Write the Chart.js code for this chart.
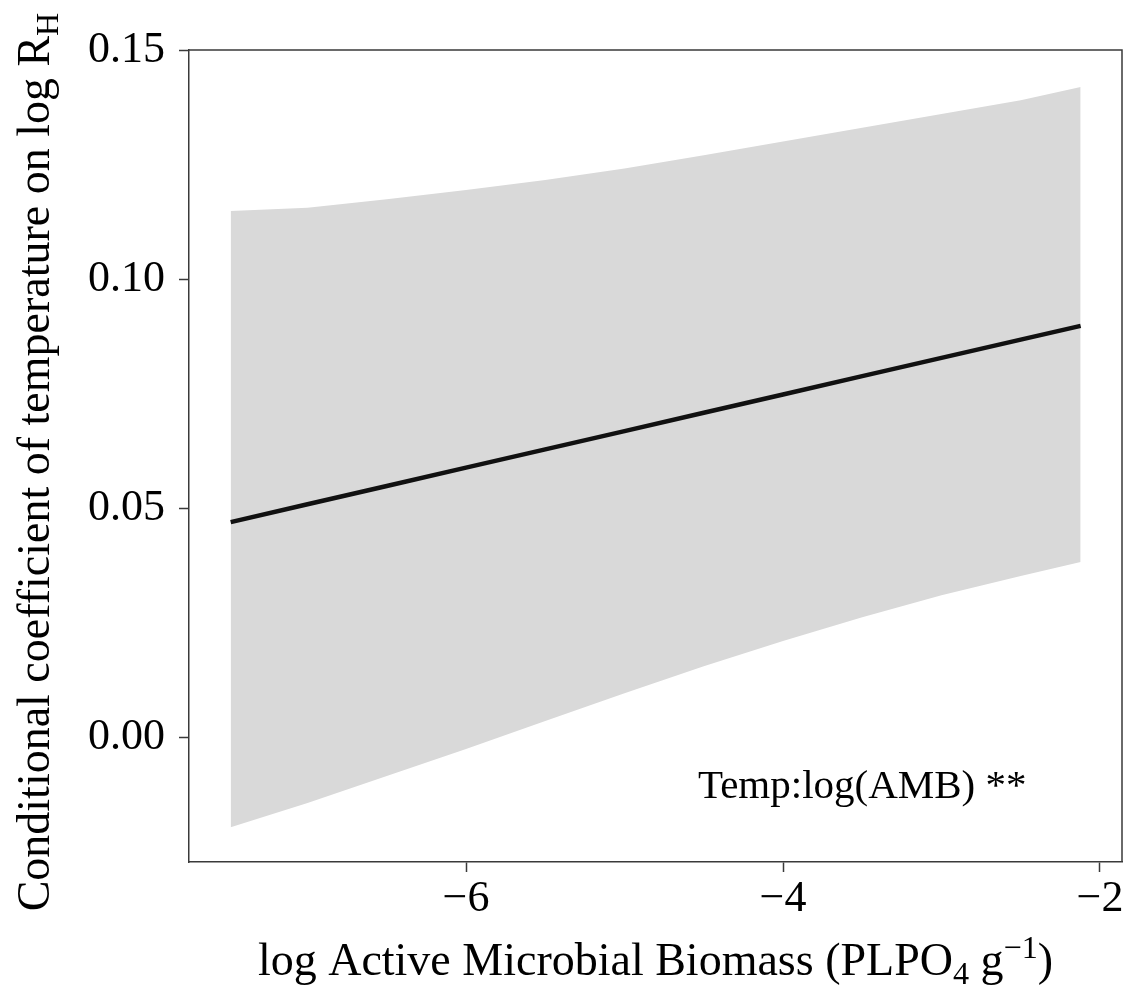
<!DOCTYPE html>
<html>
<head>
<meta charset="utf-8">
<script src="https://cdn.jsdelivr.net/npm/chart.js@4.4.1/dist/chart.umd.min.js"></script>
<style>
  html, body { margin: 0; padding: 0; background: #ffffff; }
  #wrap { width: 1125px; height: 987px; }
</style>
</head>
<body>
<div id="wrap"><canvas id="c" width="1125" height="987"></canvas></div>
<script>
// ---- data ----
const xValues = [-7.485, -7.0, -6.5, -6.0, -5.5, -5.0, -4.5, -4.0, -3.5, -3.0, -2.5, -2.122];
const fitValues = [0.0470, 0.0509, 0.0549, 0.0589, 0.0629, 0.0669, 0.0709, 0.0749, 0.0789, 0.0829, 0.0869, 0.0899];
const upperValues = [0.1150, 0.1157, 0.1176, 0.1196, 0.1218, 0.1243, 0.1272, 0.1302, 0.1332, 0.1362, 0.1392, 0.1421];
const lowerValues = [-0.0197, -0.0144, -0.0085, -0.0026, 0.0035, 0.0096, 0.0155, 0.0210, 0.0262, 0.0310, 0.0352, 0.0383];

const xTicks = [-6, -4, -2];
const xTickLabels = ['\u22126', '\u22124', '\u22122'];
const yTicks = [0.00, 0.05, 0.10, 0.15];
const yTickLabels = ['0.00', '0.05', '0.10', '0.15'];
const xRange = [-7.748, -1.861];
const yRange = [-0.0273, 0.1502];

const xTitleParts = [
  { t: 'log Active Microbial Biomass (PLPO' },
  { t: '4', sub: true },
  { t: ' g' },
  { t: '\u22121', sup: true },
  { t: ')' }
];
const yTitleParts = [
  { t: 'Conditional coefficient of temperature on log R' },
  { t: 'H', sub: true }
];
const annotationText = 'Temp:log(AMB) **';
const annotationAt = { x: -3.5, y: -0.0133 };

// ---- styles ----
const FONT = "'Liberation Serif', 'Times New Roman', serif";
const FS = 44;
const TFS = 46;
const FRAME = '#3a3a3a';
const BAND = '#d9d9d9';

const toPts = (ys) => xValues.map((x, i) => ({ x: x, y: ys[i] }));

function richWidth(ctx, parts, size) {
  let w = 0;
  for (const p of parts) {
    const s = (p.sub || p.sup) ? size * 0.7 : size;
    ctx.font = s + 'px ' + FONT;
    w += ctx.measureText(p.t).width;
  }
  return w;
}
function drawRich(ctx, parts, cx, baseY, size) {
  const total = richWidth(ctx, parts, size);
  let x = cx - total / 2;
  ctx.textAlign = 'left';
  ctx.textBaseline = 'alphabetic';
  for (const p of parts) {
    const s = (p.sub || p.sup) ? size * 0.7 : size;
    ctx.font = s + 'px ' + FONT;
    let y = baseY;
    if (p.sub) y += size * 0.2;
    if (p.sup) y -= size * 0.38;
    ctx.fillText(p.t, x, y);
    x += ctx.measureText(p.t).width;
  }
}

const decorPlugin = {
  id: 'decor',
  afterDraw(chart) {
    const { ctx, chartArea: ca, scales } = chart;
    ctx.save();
    // top and right frame lines
    ctx.strokeStyle = FRAME;
    ctx.lineWidth = 1.5;
    ctx.beginPath();
    ctx.moveTo(ca.left, ca.top);
    ctx.lineTo(ca.right, ca.top);
    ctx.lineTo(ca.right, ca.bottom);
    ctx.stroke();

    ctx.fillStyle = '#000000';
    // x title
    drawRich(ctx, xTitleParts, (ca.left + ca.right) / 2, 975, TFS);
    // y title
    ctx.save();
    ctx.translate(49, (ca.top + ca.bottom) / 2 + 6);
    ctx.rotate(-Math.PI / 2);
    drawRich(ctx, yTitleParts, 0, 0, TFS);
    ctx.restore();
    // annotation
    ctx.font = '41px ' + FONT;
    ctx.textAlign = 'center';
    ctx.textBaseline = 'alphabetic';
    ctx.fillText(annotationText, scales.x.getPixelForValue(annotationAt.x), scales.y.getPixelForValue(annotationAt.y));
    ctx.restore();
  }
};

new Chart(document.getElementById('c'), {
  type: 'line',
  data: {
    datasets: [
      {
        label: 'fit',
        data: toPts(fitValues),
        borderColor: '#111111',
        borderWidth: 4.5,
        pointRadius: 0,
        tension: 0,
        fill: false,
        order: 0
      },
      {
        label: 'upper',
        data: toPts(upperValues),
        borderWidth: 0,
        borderColor: 'rgba(0,0,0,0)',
        backgroundColor: BAND,
        pointRadius: 0,
        tension: 0,
        fill: '+1',
        order: 1
      },
      {
        label: 'lower',
        data: toPts(lowerValues),
        borderWidth: 0,
        borderColor: 'rgba(0,0,0,0)',
        pointRadius: 0,
        tension: 0,
        fill: false,
        order: 2
      }
    ]
  },
  options: {
    responsive: false,
    devicePixelRatio: 1,
    animation: false,
    layout: { padding: { top: 50, right: 3, left: 0, bottom: 0 } },
    plugins: { legend: { display: false }, tooltip: { enabled: false } },
    scales: {
      x: {
        type: 'linear',
        min: xRange[0],
        max: xRange[1],
        afterBuildTicks: (s) => { s.ticks = xTicks.map(v => ({ value: v })); },
        afterFit: (s) => { s.height = 125; s.paddingLeft = 0; s.paddingRight = 0; },
        ticks: {
          autoSkip: false,
          maxRotation: 0,
          padding: 1,
          color: '#000000',
          font: { family: FONT, size: FS },
          callback: (v) => xTickLabels[xTicks.indexOf(v)]
        },
        grid: { drawOnChartArea: false, drawTicks: true, tickLength: 10, tickColor: FRAME, tickWidth: 1.5 },
        border: { display: true, color: FRAME, width: 1.5 }
      },
      y: {
        type: 'linear',
        min: yRange[0],
        max: yRange[1],
        afterBuildTicks: (s) => { s.ticks = yTicks.map(v => ({ value: v })); },
        afterFit: (s) => { s.width = 189; s.paddingTop = 0; s.paddingBottom = 0; },
        ticks: {
          autoSkip: false,
          padding: 14,
          color: '#000000',
          font: { family: FONT, size: FS },
          callback: (v) => yTickLabels[yTicks.findIndex(t => Math.abs(t - v) < 1e-9)]
        },
        grid: { drawOnChartArea: false, drawTicks: true, tickLength: 10, tickColor: FRAME, tickWidth: 1.5 },
        border: { display: true, color: FRAME, width: 1.5 }
      }
    }
  },
  plugins: [decorPlugin]
});
</script>
</body>
</html>
